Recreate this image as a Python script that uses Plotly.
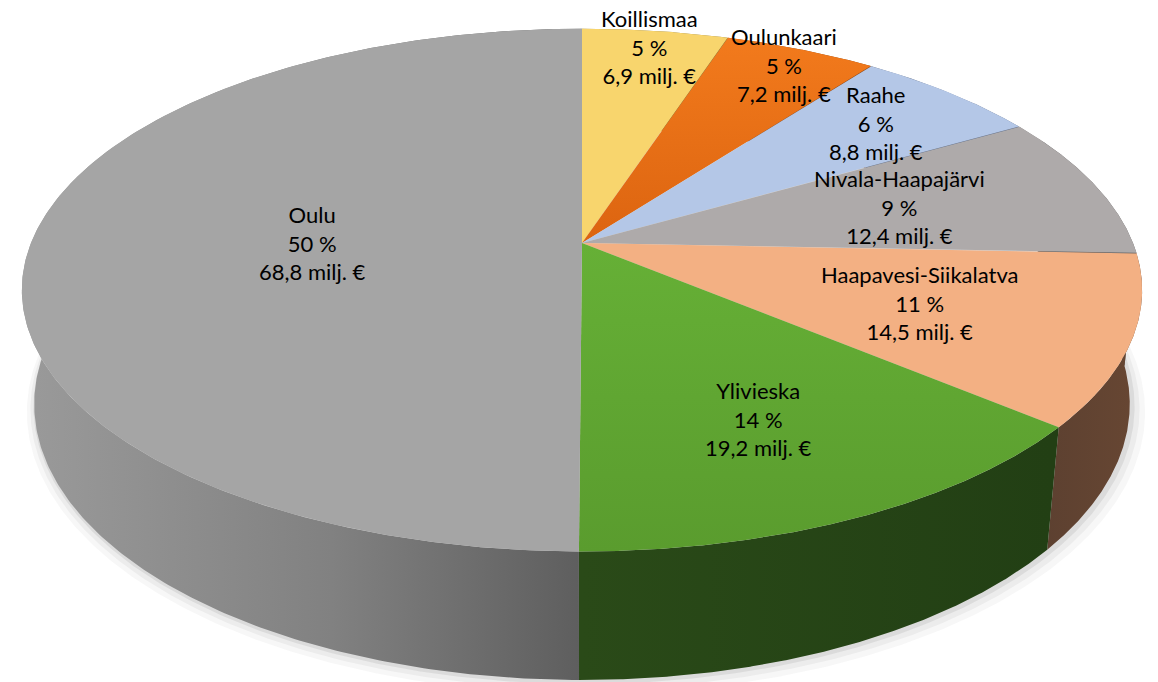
import numpy as np
import plotly.graph_objects as go

# ---------------- data ----------------
REGIONS = ["Koillismaa", "Oulunkaari", "Raahe", "Nivala-Haapajärvi",
           "Haapavesi-Siikalatva", "Ylivieska", "Oulu"]
FUNDING = [6.9, 7.2, 8.8, 12.4, 14.5, 19.2, 68.8]   # milj. €

# ---------------- styles ----------------
TOP_COLORS = ["#F8D56D", "#EE7219", "#B4C7E7", "#AEAAAA",
              "#F3B083", "#62AB33", "#A5A5A5"]
SIDE_COLORS = ["#8E7A3E", "#8A410E", "#67738A", "#656363",
               "#634530", "#26461A", "#7A7A7A"]
LABEL_R = [0.91, 0.91, 0.78, 0.61, 0.63, 0.68, 0.49]

W, H = 1158, 682
CX, CY = 582.0, 243.0
SIN_P, COS_P = 0.459, 0.888
DIST = 4.933
FOCAL = 551.0 * DIST
DEPTH = 0.235


def proj(X, Z, Y=0.0):
    dep = DIST - Y * SIN_P - Z * COS_P
    sx = CX + FOCAL * X / dep
    sy = CY - FOCAL * (Y * COS_P - Z * SIN_P) / dep
    return sx, sy


def rim(theta_deg, r=1.0, Y=0.0):
    t = np.radians(theta_deg)
    return proj(r * np.sin(t), -r * np.cos(t), Y)


vals = np.array(FUNDING)
total = vals.sum()
frac = vals / total
cum = np.concatenate([[0], np.cumsum(frac)]) * 360.0

fig = go.Figure()

# soft shadow under the cake
th_all = np.linspace(0, 360, 721)
for grow, op, dx, dy in [(1.020, 0.04, 4, 6), (1.012, 0.06, 3, 4), (1.005, 0.09, 2, 2)]:
    bx, by = rim(th_all, r=grow, Y=-DEPTH)
    fig.add_trace(go.Scatter(x=bx + dx, y=by + dy, mode="lines", fill="toself",
                             fillcolor=f"rgba(60,60,60,{op})", line=dict(width=0),
                             hoverinfo="skip", showlegend=False))

# side walls
for i in range(len(REGIONS)):
    th = np.linspace(cum[i], cum[i + 1], 300)
    tx, ty = rim(th)
    bx, by = rim(th, Y=-DEPTH)
    px = np.concatenate([tx, bx[::-1], tx[:1]])
    py = np.concatenate([ty, by[::-1], ty[:1]])
    kw = dict(fillcolor=SIDE_COLORS[i])
    if REGIONS[i] == "Oulu":
        kw = dict(fillgradient=dict(type="horizontal",
                                    colorscale=[[0, "#9A9A9A"], [0.55, "#818181"], [1, "#5E5E5E"]],
                                    start=25, stop=582))
    elif REGIONS[i] == "Ylivieska":
        kw = dict(fillgradient=dict(type="horizontal",
                                    colorscale=[[0, "#2A4A18"], [1, "#223F14"]],
                                    start=582, stop=1050))
    elif REGIONS[i] == "Haapavesi-Siikalatva":
        kw = dict(fillgradient=dict(type="horizontal",
                                    colorscale=[[0, "#5C4030"], [1, "#684733"]],
                                    start=1040, stop=1145))
    fig.add_trace(go.Scatter(x=px, y=py, mode="lines", fill="toself",
                             line=dict(width=0), hoverinfo="skip",
                             showlegend=False, **kw))

# top faces
for i in range(len(REGIONS)):
    th = np.linspace(cum[i], cum[i + 1], 300)
    tx, ty = rim(th)
    cx0, cy0 = proj(0.0, 0.0)
    px = np.concatenate([[cx0], tx, [cx0]])
    py = np.concatenate([[cy0], ty, [cy0]])
    kw = dict(fillcolor=TOP_COLORS[i])
    if REGIONS[i] == "Ylivieska":
        kw = dict(fillgradient=dict(type="vertical",
                                    colorscale=[[0, "#66B036"], [1, "#5A9C2E"]],
                                    start=243, stop=552))
    elif REGIONS[i] == "Oulunkaari":
        kw = dict(fillgradient=dict(type="vertical",
                                    colorscale=[[0, "#F27A1C"], [1, "#DC6410"]],
                                    start=40, stop=243))
    fig.add_trace(go.Scatter(x=px, y=py, mode="lines", fill="toself",
                             line=dict(width=0), hoverinfo="skip",
                             showlegend=False, **kw))

# labels
for i, name in enumerate(REGIONS):
    mid = (cum[i] + cum[i + 1]) / 2.0
    lx, ly = rim(mid, r=LABEL_R[i])
    pct = int(round(frac[i] * 100))
    val = f"{FUNDING[i]:.1f}".replace(".", ",")
    fig.add_annotation(x=float(lx), y=float(ly), xref="x", yref="y",
                       text=f"{name}<br>{pct} %<br>{val} milj. €",
                       showarrow=False, align="center",
                       font=dict(family="Lato", size=22, color="#000000"))

fig.update_layout(
    width=W, height=H,
    margin=dict(l=0, r=0, t=0, b=0),
    paper_bgcolor="white", plot_bgcolor="white",
    xaxis=dict(range=[0, W], visible=False, fixedrange=True),
    yaxis=dict(range=[H, 0], visible=False, fixedrange=True),
    showlegend=False,
)

fig.write_html("out.html", config={"displayModeBar": False},
               post_script="document.body.style.margin='0';document.body.style.overflow='hidden';")
